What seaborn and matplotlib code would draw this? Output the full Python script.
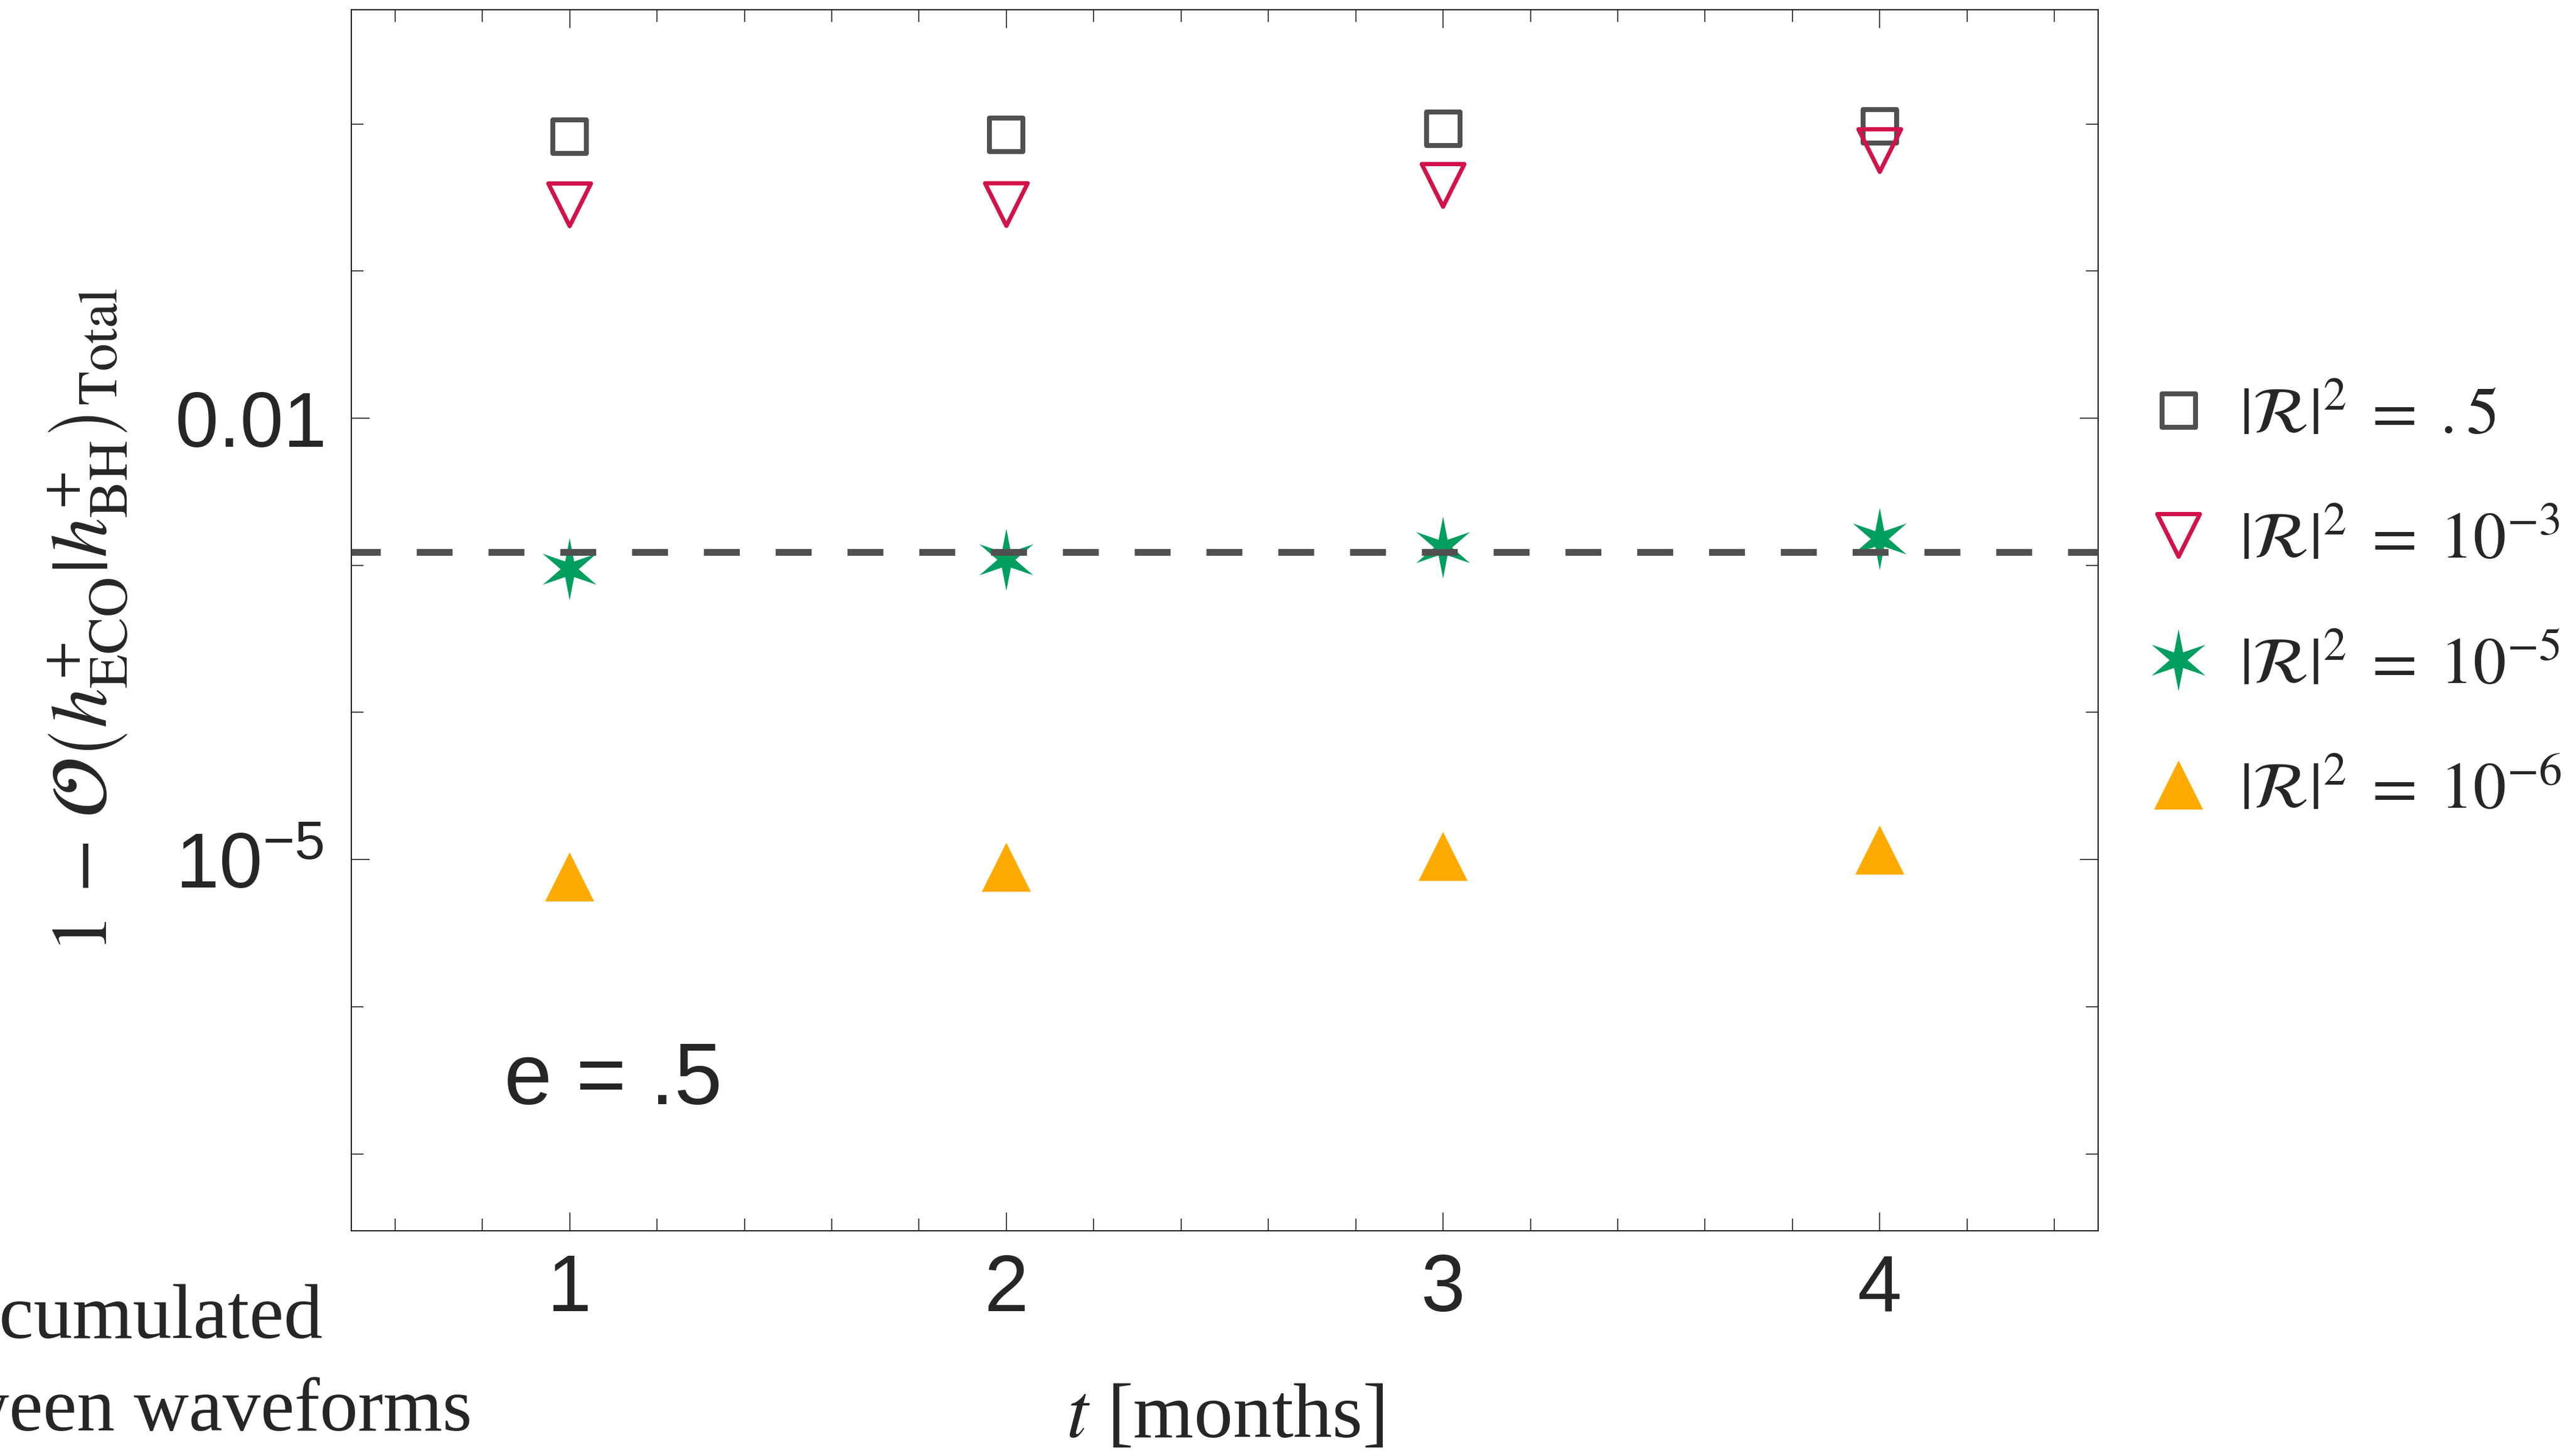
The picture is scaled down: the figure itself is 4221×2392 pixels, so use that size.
import numpy as np
import pandas as pd
import matplotlib
matplotlib.use("Agg")
import matplotlib.pyplot as plt
import seaborn as sns

# ---------------- data ----------------
t_months = [1, 2, 3, 4]
mm_R05 = [0.819, 0.842, 0.927, 0.963]          # |R|^2 = .5
mm_R1e3 = [0.282, 0.283, 0.382, 0.659]         # |R|^2 = 1e-3
mm_R1e5 = [9.4e-4, 1.09e-3, 1.32e-3, 1.51e-3]  # |R|^2 = 1e-5
mm_R1e6 = [7.62e-6, 8.87e-6, 1.05e-5, 1.16e-5] # |R|^2 = 1e-6
threshold = 1.23e-3

series_labels = [r"$|\mathcal{R}|^2\;=\;.5$", r"$|\mathcal{R}|^2\;=\;10^{-3}$",
                 r"$|\mathcal{R}|^2\;=\;10^{-5}$", r"$|\mathcal{R}|^2\;=\;10^{-6}$"]
ytick_vals = [1e-2, 1e-5]
ytick_labels = ["0.01", r"$10^{-5}$"]
xtick_vals = [1, 2, 3, 4]
xtick_labels = ["1", "2", "3", "4"]

# ---------------- style ----------------
sns.set_theme(style="white")
plt.rcParams["font.family"] = ["Liberation Sans", "DejaVu Sans"]
plt.rcParams["mathtext.fontset"] = "stix"
plt.rcParams["mathtext.rm"] = "Liberation Sans"
plt.rcParams["mathtext.it"] = "Liberation Sans:italic"
plt.rcParams["mathtext.bf"] = "Liberation Sans:bold"

GRAY = "#505050"
RED = "#D2124A"
GREEN = "#009E5F"
ORANGE = "#FFAA00"
FRAME = "#222222"

W, H = 4221, 2392
DPI = 200
fig = plt.figure(figsize=(W / DPI, H / DPI), dpi=DPI)
ax = fig.add_axes([577 / W, 1 - 2022 / H, (3446 - 577) / W, (2022 - 16) / H])

# star marker shape (6 points, thin)
ang_out = np.deg2rad(np.arange(90, 450, 60))
star = []
for a in ang_out:
    star.append((np.cos(a), np.sin(a)))
    b = a + np.deg2rad(30)
    star.append((0.29 * np.cos(b), 0.29 * np.sin(b)))

df = pd.DataFrame({"t": t_months, "R05": mm_R05, "R1e3": mm_R1e3,
                   "R1e5": mm_R1e5, "R1e6": mm_R1e6})

sns.scatterplot(data=df, x="t", y="R05", ax=ax, marker="s", s=392,
                facecolor="none", edgecolor=GRAY, linewidth=2.9,
                label=series_labels[0], zorder=3)
sns.scatterplot(data=df, x="t", y="R1e3", ax=ax, marker="v", s=635,
                facecolor="none", edgecolor=RED, linewidth=2.5,
                label=series_labels[1], zorder=4)
sns.scatterplot(data=df, x="t", y="R1e5", ax=ax, marker=star, s=1348,
                color=GREEN, edgecolor="none", linewidth=0,
                label=series_labels[2], zorder=3)
sns.scatterplot(data=df, x="t", y="R1e6", ax=ax, marker="^", s=841,
                color=ORANGE, edgecolor="none", linewidth=0,
                label=series_labels[3], zorder=3)

ax.axhline(threshold, color=GRAY, lw=3.96, linestyle=(1.0, (5.36, 5.36)), zorder=5)

ax.set_yscale("log")
ax.set_xlim(0.5, 4.5)
ax.set_ylim(10 ** -7.523, 10 ** 0.776)

ax.set_xticks(xtick_vals)
ax.set_xticklabels(xtick_labels)
ax.set_xticks(np.arange(0.6, 4.5, 0.2), minor=True)
ax.set_yticks(ytick_vals)
ax.set_yticklabels(ytick_labels)
ax.yaxis.set_minor_locator(matplotlib.ticker.FixedLocator([10.0 ** k for k in range(-7, 1)]))
ax.yaxis.set_minor_formatter(matplotlib.ticker.NullFormatter())

for sp in ax.spines.values():
    sp.set_color(FRAME)
    sp.set_linewidth(0.75)
ax.tick_params(which="both", direction="in", top=True, right=True, left=True, bottom=True,
               color=FRAME, width=0.6)
ax.tick_params(which="major", length=10.8)
ax.tick_params(which="minor", length=7.2)
ax.tick_params(axis="x", which="major", labelsize=47, pad=13)
ax.tick_params(axis="y", which="major", labelsize=46, pad=104)
for lab in ax.get_yticklabels():
    lab.set_horizontalalignment("left")
    lab.set_math_fontfamily("custom")
for lab in ax.get_xticklabels():
    lab.set_math_fontfamily("custom")

ax.set_xlabel(r"$t$ [months]", fontsize=46, fontfamily=["Liberation Serif"])
ax.xaxis.set_label_coords(0.5, -0.125)
ax.set_ylabel(r"$1\,-\,\mathcal{O}\left(h^{+}_{\mathrm{ECO}}|h^{+}_{\mathrm{BH}}\right)_{\mathrm{Total}}$",
              fontsize=47)
ax.yaxis.set_label_coords(-0.127, 0.5)

ax.text(828 / W, 1 - 1814 / H, "e = .5", transform=fig.transFigure, fontsize=51,
        ha="left", va="baseline")

fig.text(530 / W, 1 - 2198 / H, "accumulated", fontsize=46, ha="right", va="baseline",
         fontfamily=["Liberation Serif"])
fig.text(775 / W, 1 - 2350 / H, "between waveforms", fontsize=45, ha="right", va="baseline",
         fontfamily=["Liberation Serif"])

leg = ax.legend(loc="center left", bbox_to_anchor=(3524 / W, 1 - 992 / H),
                bbox_transform=fig.transFigure, frameon=False, fontsize=39,
                handlelength=1.0, handletextpad=0.42, labelspacing=0.97,
                borderpad=0, borderaxespad=0, scatteryoffsets=[0.5])

fig.savefig("out.png", dpi=DPI)
